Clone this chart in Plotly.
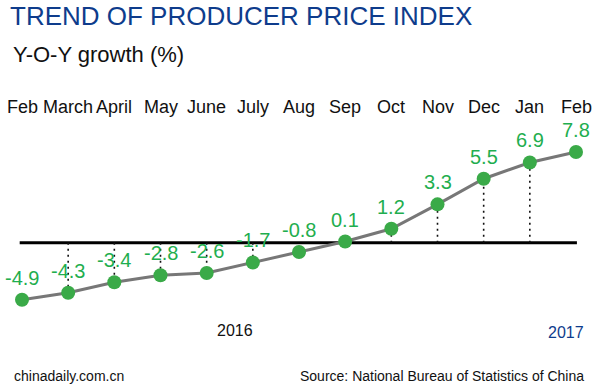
import plotly.graph_objects as go

months = ["Feb", "March", "April", "May", "June", "July", "Aug", "Sep",
          "Oct", "Nov", "Dec", "Jan", "Feb"]
values = [-4.9, -4.3, -3.4, -2.8, -2.6, -1.7, -0.8, 0.1, 1.2, 3.3, 5.5, 6.9, 7.8]
labels = ["-4.9", "-4.3", "-3.4", "-2.8", "-2.6", "-1.7", "-0.8", "0.1",
          "1.2", "3.3", "5.5", "6.9", "7.8"]
drop_lines = [False, True, True, True, True, True, False, False,
              True, True, True, True, False]
years = ["2016", "2017"]

W, H = 600, 384
FONT = "Liberation Sans, Arial, sans-serif"
GREEN = "#3aaa48"
LABEL_GREEN = "#1fae4f"
BLUE = "#0e3c8c"

x = list(range(len(months)))

fig = go.Figure()
fig.add_trace(go.Scatter(
    x=x, y=values, mode="lines+markers",
    line=dict(color="#777777", width=3),
    marker=dict(color=GREEN, size=14, line=dict(width=0)),
    hoverinfo="skip", showlegend=False,
))

shapes = [dict(type="line", xref="x", yref="y", x0=-0.05, x1=12.02, y0=0, y1=0,
               line=dict(color="black", width=3), layer="below")]
for i, v in enumerate(values):
    if drop_lines[i]:
        shapes.append(dict(type="line", xref="x", yref="y", x0=i, x1=i, y0=0, y1=v,
                           line=dict(color="#111111", width=1.6, dash="2px,4px"),
                           layer="below"))

def py(px):
    return 1 - px / H

annotations = []
for i, m in enumerate(months):
    annotations.append(dict(x=i, y=py(107), xref="x", yref="paper", text=m,
                            showarrow=False, xanchor="center", yanchor="middle",
                            font=dict(family=FONT, size=18, color="#111111")))
for i, (v, t) in enumerate(zip(values, labels)):
    annotations.append(dict(x=i, y=v, xref="x", yref="y", text=t, showarrow=False,
                            xanchor="center", yanchor="middle", yshift=22,
                            font=dict(family=FONT, size=20, color=LABEL_GREEN)))

annotations += [
    dict(x=8 / W, y=py(16), xref="paper", yref="paper", text="TREND OF PRODUCER PRICE INDEX",
         showarrow=False, xanchor="left", yanchor="middle",
         font=dict(family=FONT, size=26, color=BLUE)),
    dict(x=11 / W, y=py(54), xref="paper", yref="paper", text="Y-O-Y growth (%)",
         showarrow=False, xanchor="left", yanchor="middle",
         font=dict(family=FONT, size=22, color="#111111")),
    dict(x=234.5 / W, y=py(330), xref="paper", yref="paper", text=years[0],
         showarrow=False, xanchor="center", yanchor="middle",
         font=dict(family=FONT, size=16, color="#111111")),
    dict(x=565.5 / W, y=py(332), xref="paper", yref="paper", text=years[1],
         showarrow=False, xanchor="center", yanchor="middle",
         font=dict(family=FONT, size=16, color=BLUE)),
    dict(x=12 / W, y=py(376), xref="paper", yref="paper", text="chinadaily.com.cn",
         showarrow=False, xanchor="left", yanchor="middle",
         font=dict(family=FONT, size=14, color="#111111")),
    dict(x=586 / W, y=py(376), xref="paper", yref="paper",
         text="Source: National Bureau of Statistics of China",
         showarrow=False, xanchor="right", yanchor="middle",
         font=dict(family=FONT, size=14, color="#111111")),
]

px_per_idx = (576 - 22) / 12
x0 = -22 / px_per_idx
x1 = 12 + (W - 576) / px_per_idx
zero_px = 242.7
px_per_unit = (zero_px - 152) / 7.8
y_top = zero_px / px_per_unit
y_bot = (zero_px - H) / px_per_unit

fig.update_layout(
    width=W, height=H, margin=dict(l=0, r=0, t=0, b=0),
    paper_bgcolor="white", plot_bgcolor="white",
    xaxis=dict(range=[x0, x1], visible=False, fixedrange=True),
    yaxis=dict(range=[y_bot, y_top], visible=False, fixedrange=True),
    shapes=shapes, annotations=annotations, showlegend=False,
)

fig.write_html("out.html", config={"displayModeBar": False},
               post_script="document.body.style.margin='0';document.body.style.overflow='hidden';")
